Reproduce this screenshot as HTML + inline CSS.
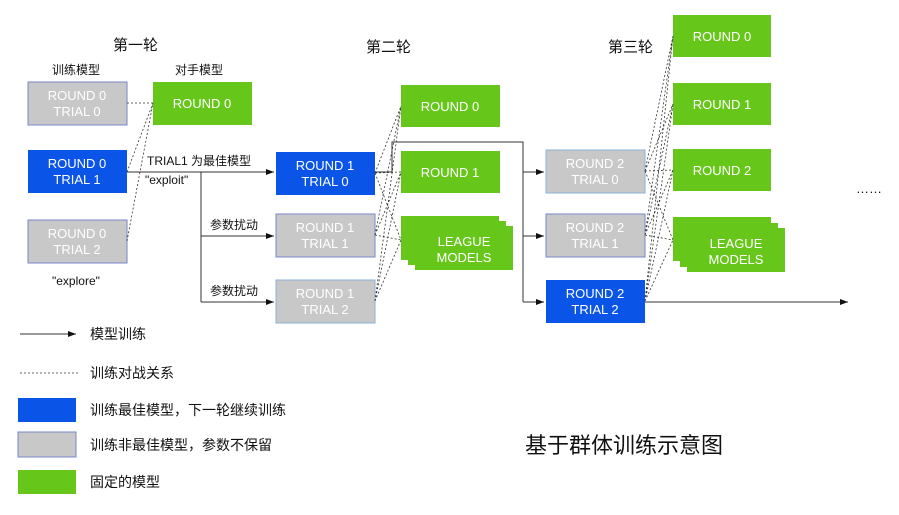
<!DOCTYPE html>
<html><head><meta charset="utf-8"><style>
body{margin:0;background:#fff;}
svg text{font-family:"Liberation Sans","Noto Sans CJK SC",sans-serif;}
</style></head><body>
<svg width="899" height="510" viewBox="0 0 899 510" xmlns="http://www.w3.org/2000/svg">
<defs><marker id="a" markerWidth="8" markerHeight="6" refX="8" refY="3" orient="auto"><path d="M0,0L8,3L0,6z" fill="#111"/></marker></defs>
<g font-size="13" fill="#fff" text-anchor="middle">
<!-- round 1 -->
<rect x="28" y="82" width="99" height="43" fill="#c8c8c8" stroke="#7a86c8"/>
<text x="77" y="100">ROUND 0</text><text x="77" y="116">TRIAL 0</text>
<rect x="28" y="150" width="99" height="43" fill="#0a55e8"/>
<text x="77" y="168">ROUND 0</text><text x="77" y="184">TRIAL 1</text>
<rect x="28" y="220" width="99" height="43" fill="#c8c8c8" stroke="#7a86c8"/>
<text x="77" y="238">ROUND 0</text><text x="77" y="254">TRIAL 2</text>
<rect x="153" y="82" width="99" height="43" fill="#66c71a"/>
<text x="202" y="108">ROUND 0</text>
<!-- round 2 -->
<rect x="276" y="152" width="99" height="43" fill="#0a55e8"/>
<text x="325" y="170">ROUND 1</text><text x="325" y="186">TRIAL 0</text>
<rect x="276" y="214" width="99" height="43" fill="#c8c8c8" stroke="#7a86c8"/>
<text x="325" y="232">ROUND 1</text><text x="325" y="248">TRIAL 1</text>
<rect x="276" y="280" width="99" height="43" fill="#c8c8c8" stroke="#8ab0d8"/>
<text x="325" y="298">ROUND 1</text><text x="325" y="314">TRIAL 2</text>
<rect x="401" y="85" width="99" height="42" fill="#66c71a"/>
<text x="450" y="111">ROUND 0</text>
<rect x="401" y="151" width="99" height="42" fill="#66c71a"/>
<text x="450" y="177">ROUND 1</text>
<rect x="415" y="226" width="98" height="44" fill="#66c71a"/>
<rect x="408" y="221" width="98" height="44" fill="#66c71a"/>
<rect x="401" y="216" width="98" height="44" fill="#66c71a"/>
<text x="464" y="246">LEAGUE</text><text x="464" y="262">MODELS</text>
<!-- round 3 -->
<rect x="546" y="150" width="99" height="43" fill="#c8c8c8" stroke="#8ab0d8"/>
<text x="595" y="168">ROUND 2</text><text x="595" y="184">TRIAL 0</text>
<rect x="546" y="214" width="99" height="43" fill="#c8c8c8" stroke="#7a86c8"/>
<text x="595" y="232">ROUND 2</text><text x="595" y="248">TRIAL 1</text>
<rect x="546" y="280" width="99" height="43" fill="#0a55e8"/>
<text x="595" y="298">ROUND 2</text><text x="595" y="314">TRIAL 2</text>
<rect x="673" y="15" width="98" height="42" fill="#66c71a"/>
<text x="722" y="41">ROUND 0</text>
<rect x="673" y="83" width="98" height="42" fill="#66c71a"/>
<text x="722" y="109">ROUND 1</text>
<rect x="673" y="149" width="98" height="42" fill="#66c71a"/>
<text x="722" y="175">ROUND 2</text>
<rect x="687" y="228" width="98" height="44" fill="#66c71a"/>
<rect x="680" y="223" width="98" height="44" fill="#66c71a"/>
<rect x="673" y="217" width="98" height="44" fill="#66c71a"/>
<text x="736" y="248">LEAGUE</text><text x="736" y="264">MODELS</text>
</g>
<!-- dashed -->
<g stroke="#333" stroke-width="0.8" stroke-dasharray="2,2" fill="none">
<path d="M127,103H153M127,172L153,103M127,241L153,103"/>
<path d="M375,173L401,106M375,173L401,172M375,173L401,240M375,235L401,106M375,235L401,172M375,235L401,240M375,301L401,106M375,301L401,172M375,301L401,240"/>
<path d="M645,171L673,36M645,171L673,104M645,171L673,170M645,171L673,240M645,235L673,36M645,235L673,104M645,235L673,170M645,235L673,240M645,301L673,36M645,301L673,104M645,301L673,170M645,301L673,240"/>
</g>
<!-- arrows -->
<g stroke="#333" stroke-width="1" fill="none">
<path d="M127,172H274" marker-end="url(#a)"/>
<path d="M201,172V302"/>
<path d="M201,236H274" marker-end="url(#a)"/>
<path d="M201,302H274" marker-end="url(#a)"/>
<path d="M375,172H392V142H523V302"/>
<path d="M523,172H544" marker-end="url(#a)"/>
<path d="M523,236H544" marker-end="url(#a)"/>
<path d="M523,302H544" marker-end="url(#a)"/>
<path d="M645,302H848" marker-end="url(#a)"/>
<path d="M20,334H76" marker-end="url(#a)"/>
<path d="M20,373H78" stroke-dasharray="2,2" stroke-width="0.8"/>
</g>
<g font-size="13" fill="#111">
<text x="113" y="50" font-size="15">第一轮</text>
<text x="366" y="52" font-size="15">第二轮</text>
<text x="608" y="52" font-size="15">第三轮</text>
<text x="52" y="74" font-size="12">训练模型</text>
<text x="175" y="74" font-size="12">对手模型</text>
<text x="147" y="165" font-size="12">TRIAL1 为最佳模型</text>
<text x="145" y="184" font-size="12">"exploit"</text>
<text x="210" y="229" font-size="12">参数扰动</text>
<text x="210" y="295" font-size="12">参数扰动</text>
<text x="52" y="285" font-size="12">"explore"</text>
<text x="856" y="193" font-size="13">……</text>
<text x="90" y="339" font-size="14">模型训练</text>
<text x="90" y="378" font-size="14">训练对战关系</text>
<text x="90" y="415" font-size="14">训练最佳模型，下一轮继续训练</text>
<text x="90" y="450" font-size="14">训练非最佳模型，参数不保留</text>
<text x="90" y="487" font-size="14">固定的模型</text>
<text x="525" y="453" font-size="22">基于群体训练示意图</text>
</g>
<rect x="18" y="398" width="58" height="24" fill="#0a55e8"/>
<rect x="18" y="432" width="58" height="25" fill="#c8c8c8" stroke="#7a86c8"/>
<rect x="18" y="470" width="58" height="24" fill="#66c71a"/>
</svg>
</body></html>
